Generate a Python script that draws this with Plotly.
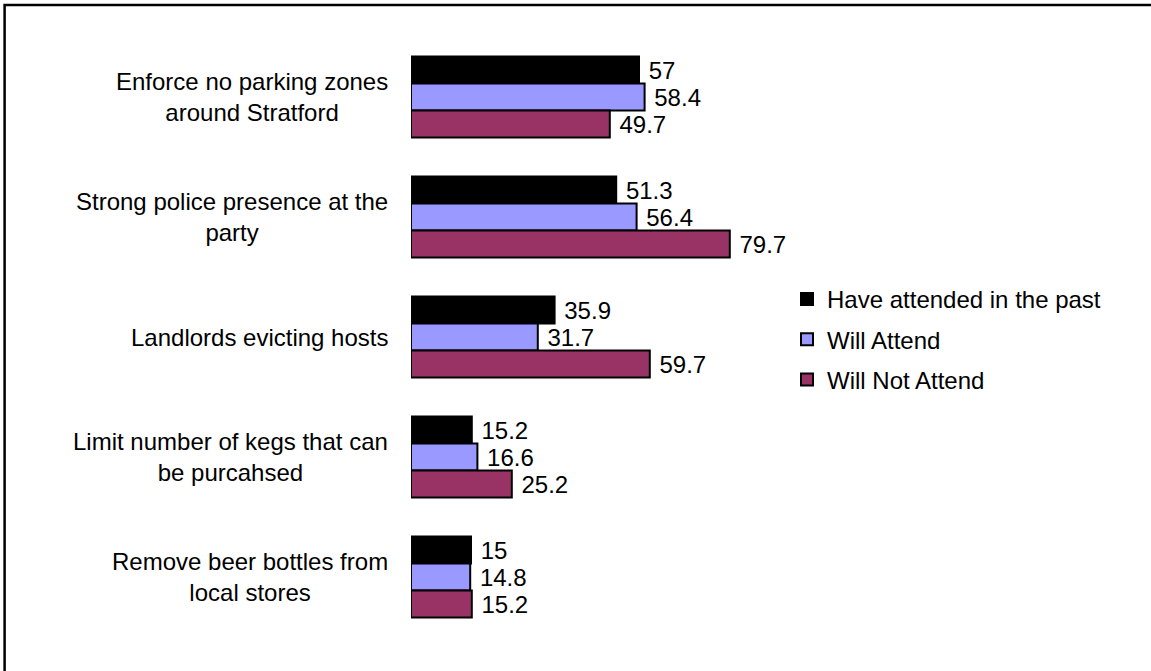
import plotly.graph_objects as go

categories = [
    "Enforce no parking zones<br>around Stratford",
    "Strong police presence at the<br>party",
    "Landlords evicting hosts",
    "Limit number of kegs that can<br>be purcahsed",
    "Remove beer bottles from<br>local stores",
]
series_names = ["Have attended in the past", "Will Attend", "Will Not Attend"]
have_attended = [57, 51.3, 35.9, 15.2, 15]
will_attend = [58.4, 56.4, 31.7, 16.6, 14.8]
will_not_attend = [49.7, 79.7, 59.7, 25.2, 15.2]
colors = ["#000000", "#9999FF", "#993366"]

FONT = "Liberation Sans, Arial, sans-serif"
FS = 24

fig = go.Figure()
for i, (name, vals) in enumerate(zip(series_names, [have_attended, will_attend, will_not_attend])):
    fig.add_trace(go.Bar(
        y=categories, x=vals, name=name, orientation="h",
        marker=dict(color=colors[i], line=dict(color="#000000", width=2)),
        text=[f"\u00a0{v:g}" for v in vals], textposition="outside",
        textfont=dict(family=FONT, size=FS, color="#000000"),
        cliponaxis=False, legendgroup=str(i),
    ))

for c in categories:
    fig.add_annotation(x=-0.052, xref="paper", y=c, yref="y", text=c,
                       xanchor="right", yanchor="middle", align="center",
                       showarrow=False,
                       font=dict(family=FONT, size=FS, color="#000000"))

# outer frame
fig.add_shape(type="rect", xref="paper", yref="paper",
              x0=-1.016, x1=1.9, y0=-0.2, y1=1.0533,
              line=dict(color="#000000", width=2.5), fillcolor="rgba(0,0,0,0)")

fig.update_layout(
    width=1151, height=671,
    margin=dict(l=411, r=340, t=37, b=34),
    paper_bgcolor="white", plot_bgcolor="white",
    barmode="group", bargap=0.325, bargroupgap=0,
    font=dict(family=FONT, size=FS, color="#000000"),
    showlegend=True,
    legend=dict(x=0.94, xanchor="left", y=0.6, yanchor="top",
                traceorder="grouped", tracegroupgap=6,
                font=dict(family=FONT, size=FS, color="#000000"),
                bgcolor="rgba(0,0,0,0)"),
    xaxis=dict(range=[0, 100], visible=False),
    yaxis=dict(autorange="reversed", showticklabels=False, showgrid=False,
               zeroline=False, showline=False, ticks=""),
)

fig.write_html("out.html", config={"displayModeBar": False},
               post_script="document.body.style.margin='0';")
